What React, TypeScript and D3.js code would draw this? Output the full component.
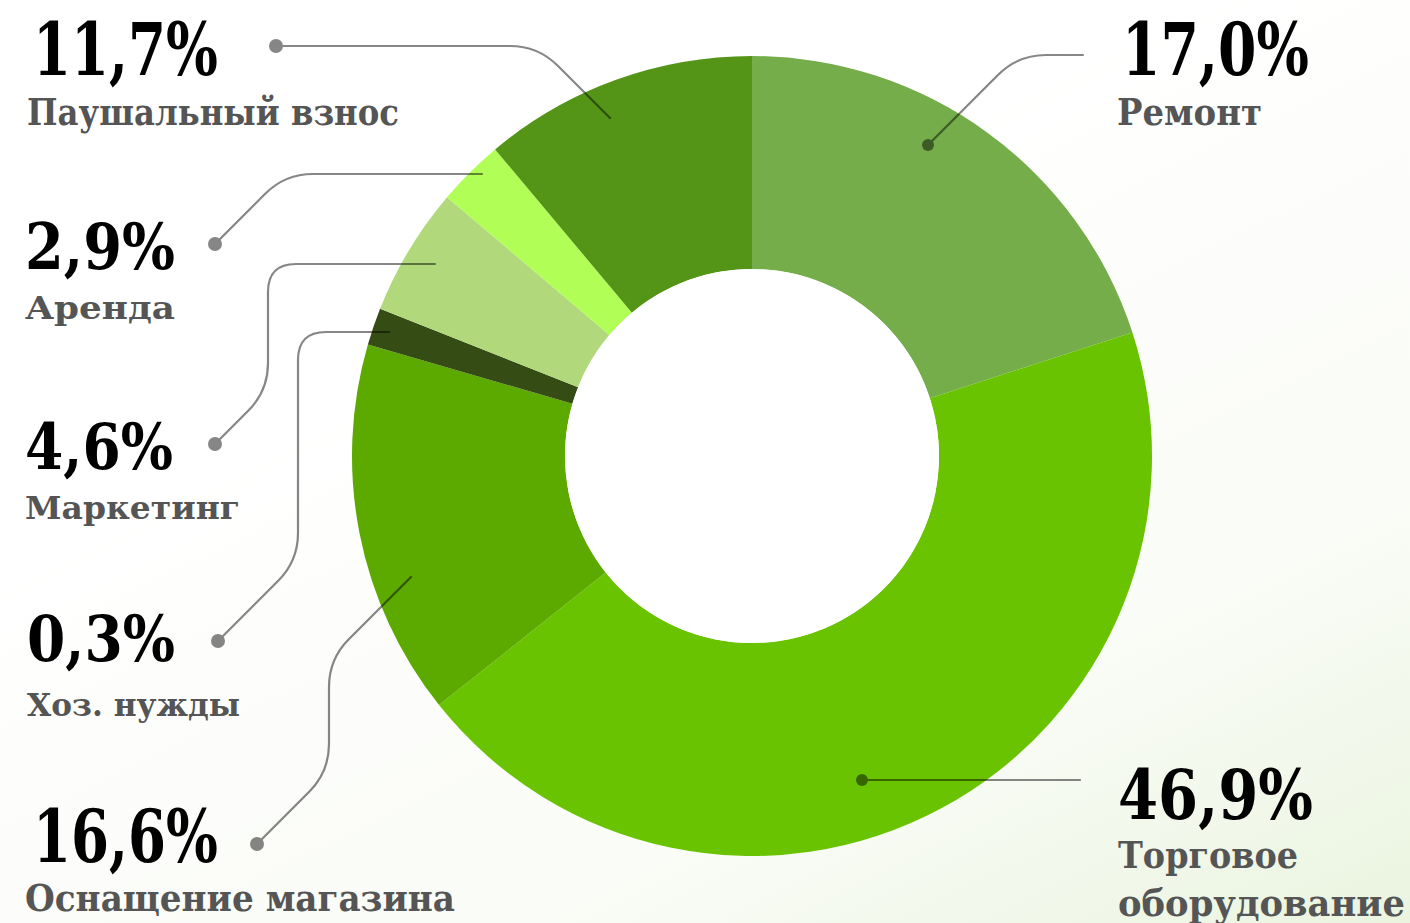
import React from "react";
import * as d3 from "d3";

// ---- data ----
const categories = [
  "Ремонт",
  "Торговое оборудование",
  "Оснащение магазина",
  "Хоз. нужды",
  "Маркетинг",
  "Аренда",
  "Паушальный взнос",
];
const shareLabels = ["17,0%", "46,9%", "16,6%", "0,3%", "4,6%", "2,9%", "11,7%"];
// slice sizes as drawn in the picture (percent of the ring)
const arcShares = [20.0, 44.3, 15.2, 1.5, 5.2, 2.7, 11.1];
const colors = ["#74ad4a", "#6ac300", "#5ca900", "#354d14", "#b1d97c", "#b1fe56", "#549517"];

// ---- layout ----
const W = 1410;
const H = 923;
const CX = 752;
const CY = 456;
const R_OUT = 400;
const R_IN = 187;

type Lay = {
  x: number;
  nameX: number;
  pctY: number;
  pctSize: number;
  pctW: number;
  lines: string[];
  lineY: number[];
  lineSize: number;
  lineW: number[];
  leader: [number, number][];
  innerDot: boolean;
};

const layout: Lay[] = [
  {
    x: 1122, nameX: 1117, pctY: 75, pctSize: 72, pctW: 187,
    lines: ["Ремонт"], lineY: [125], lineSize: 38, lineW: [145],
    leader: [[928, 145], [1018, 55], [1083, 55]], innerDot: true,
  },
  {
    x: 1118, nameX: 1118, pctY: 819, pctSize: 70, pctW: 195,
    lines: ["Торговое", "оборудование"], lineY: [868, 916], lineSize: 37, lineW: [180, 287],
    leader: [[862, 780], [1080, 780]], innerDot: true,
  },
  {
    x: 33, nameX: 25, pctY: 862, pctSize: 72, pctW: 185,
    lines: ["Оснащение магазина"], lineY: [911], lineSize: 38, lineW: [430],
    leader: [[257, 844], [329, 772], [329, 659], [411, 577]], innerDot: false,
  },
  {
    x: 27, nameX: 27, pctY: 661, pctSize: 64, pctW: 148,
    lines: ["Хоз. нужды"], lineY: [716], lineSize: 32, lineW: [213],
    leader: [[218, 641], [298, 561], [298, 332], [389, 332]], innerDot: false,
  },
  {
    x: 25, nameX: 25, pctY: 469, pctSize: 64, pctW: 148,
    lines: ["Маркетинг"], lineY: [519], lineSize: 32, lineW: [215],
    leader: [[215, 444], [268, 391], [268, 264], [435, 264]], innerDot: false,
  },
  {
    x: 25, nameX: 25, pctY: 269, pctSize: 64, pctW: 150,
    lines: ["Аренда"], lineY: [319], lineSize: 32, lineW: [150],
    leader: [[215, 244], [285, 174], [482, 174]], innerDot: false,
  },
  {
    x: 33, nameX: 27, pctY: 75, pctSize: 72, pctW: 185,
    lines: ["Паушальный взнос"], lineY: [125], lineSize: 38, lineW: [372],
    leader: [[276, 46], [538, 46], [610, 118]], innerDot: false,
  },
];

function roundedPath(pts: [number, number][], rad: number): string {
  const p = d3.path();
  p.moveTo(pts[0][0], pts[0][1]);
  for (let i = 1; i < pts.length - 1; i++) {
    const [x0, y0] = pts[i - 1];
    const [x1, y1] = pts[i];
    const [x2, y2] = pts[i + 1];
    const l1 = Math.hypot(x1 - x0, y1 - y0);
    const l2 = Math.hypot(x2 - x1, y2 - y1);
    const r = Math.min(rad, l1 / 2, l2 / 2);
    const ax = x1 - ((x1 - x0) / l1) * r;
    const ay = y1 - ((y1 - y0) / l1) * r;
    const bx = x1 + ((x2 - x1) / l2) * r;
    const by = y1 + ((y2 - y1) / l2) * r;
    p.lineTo(ax, ay);
    p.quadraticCurveTo(x1, y1, bx, by);
  }
  const last = pts[pts.length - 1];
  p.lineTo(last[0], last[1]);
  return p.toString();
}

const FONT = "'DejaVu Serif', serif";

export default function App() {
  const pie = d3
    .pie<number>()
    .sort(null)
    .value((d) => d)
    .startAngle(0)
    .endAngle(2 * Math.PI);
  const arcs = pie(arcShares);
  const arcGen = d3.arc<d3.PieArcDatum<number>>().innerRadius(R_IN).outerRadius(R_OUT);

  return (
    <svg
      width={W}
      height={H}
      viewBox={`0 0 ${W} ${H}`}
      style={{ position: "absolute", left: 0, top: 0, display: "block" }}
    >
      <defs>
        <linearGradient id="bg" x1="0.45" y1="0.25" x2="1" y2="1">
          <stop offset="0" stopColor="#ffffff" />
          <stop offset="0.6" stopColor="#fafcf7" />
          <stop offset="1" stopColor="#eaf4df" />
        </linearGradient>
      </defs>
      <rect x={0} y={0} width={W} height={H} fill="url(#bg)" />

      <g transform={`translate(${CX},${CY})`}>
        {arcs.map((a, i) => (
          <path key={categories[i]} d={arcGen(a) || ""} fill={colors[i]} />
        ))}
        <circle r={R_IN} fill="#ffffff" />
      </g>

      <g opacity={0.47}>
        {layout.map((l, i) => {
          const first = l.leader[0];
          return (
            <g key={"ld" + i}>
              <path d={roundedPath(l.leader, 28)} fill="none" stroke="#000" strokeWidth={2.2} strokeLinecap="round" />
              <circle cx={first[0]} cy={first[1]} r={l.innerDot ? 6 : 7} fill="#000" />
            </g>
          );
        })}
      </g>

      {layout.map((l, i) => (
        <g key={"lb" + i}>
          <text
            x={l.x}
            y={l.pctY}
            fontFamily={FONT}
            fontWeight="bold"
            fontSize={l.pctSize}
            fill="#000"
            textLength={l.pctW}
            lengthAdjust="spacingAndGlyphs"
          >
            {shareLabels[i]}
          </text>
          {l.lines.map((t, j) => (
            <text
              key={j}
              x={l.nameX}
              y={l.lineY[j]}
              fontFamily={FONT}
              fontWeight="bold"
              fontSize={l.lineSize}
              fill="#555555"
              textLength={l.lineW[j]}
              lengthAdjust="spacingAndGlyphs"
            >
              {t}
            </text>
          ))}
        </g>
      ))}
    </svg>
  );
}
